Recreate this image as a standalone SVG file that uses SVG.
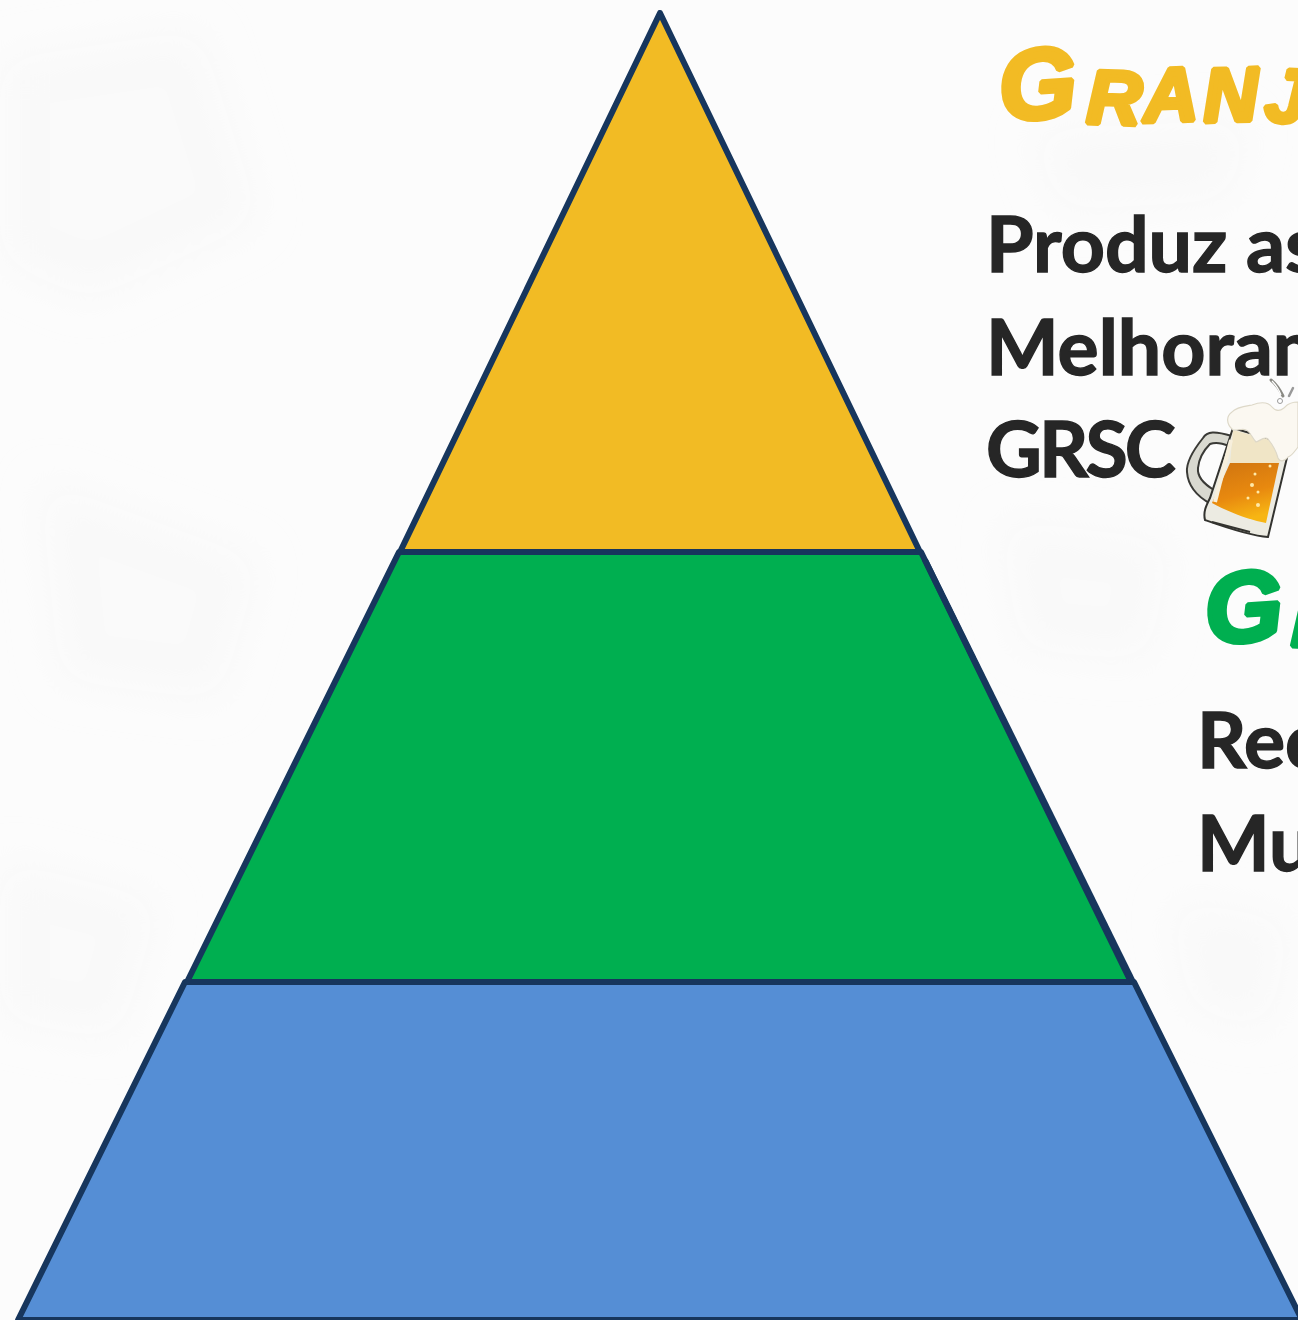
<svg xmlns="http://www.w3.org/2000/svg" width="1298" height="1320" viewBox="0 0 1298 1320">
<style>
.tier{stroke:#17365d;stroke-width:6;stroke-linejoin:round}
.body{font-family:Lato,"Liberation Sans",sans-serif;font-weight:700;font-size:77px;fill:#262626;stroke:#262626;stroke-width:1.4}
.brush{font-family:"Liberation Sans",sans-serif;font-weight:700;font-style:italic;stroke-width:5;stroke-linejoin:bevel}
.blot{fill:#f7f7f8;opacity:.5}
.bub{fill:#ffe9a8}
</style>
<defs>
<filter id="soft" x="-30%" y="-30%" width="160%" height="160%"><feGaussianBlur stdDeviation="22"/></filter>
<linearGradient id="beer" x1="0" y1="0" x2="0.3" y2="1"><stop offset="0" stop-color="#cf7410"/><stop offset=".6" stop-color="#e8890f"/><stop offset="1" stop-color="#f7b513"/></linearGradient>
</defs>
<rect width="1298" height="1320" fill="#fcfcfc"/>
<g id="background" filter="url(#soft)">
<polygon class="blot" points="0,60 200,30 260,220 90,300 0,260"/>
<polygon class="blot" points="40,480 260,560 220,700 60,680"/>
<polygon class="blot" points="0,860 160,900 120,1040 0,1020"/>
<polygon class="blot" points="1030,130 1250,120 1230,200 1060,210"/>
<polygon class="blot" points="1000,520 1170,540 1150,660 1020,650"/>
<polygon class="blot" points="1170,900 1290,920 1270,1030 1190,1010"/>
</g>
<g id="tier-bottom"><polygon class="tier" fill="#558ed5" points="185,982 1134,982 1302,1320 18,1320"/></g>
<g id="tier-middle"><polygon class="tier" fill="#00af50" points="399,552 921,552 1131,982 187,982"/><line x1="925" y1="560" x2="1133" y2="982" stroke="#17365d" stroke-width="6"/></g>
<g id="tier-top"><polygon class="tier" fill="#f2bb24" points="660,13 920,552 400,552"/></g>
<g id="label-top">
<text class="brush" fill="#f2bb24" stroke="#f2bb24"><tspan font-size="100" x="1001" y="121" rotate="-4">G</tspan><tspan font-size="76" x="1086" y="123" rotate="2">R</tspan><tspan font-size="76" x="1144" y="122" rotate="-2">A</tspan><tspan font-size="76" x="1204" y="122" rotate="-2">N</tspan><tspan font-size="76" x="1264" y="121" rotate="3">J</tspan></text>
<text class="body" x="986" y="272">Produz as</text>
<text class="body" x="986" y="375">Melhoram</text>
<text class="body" x="986" y="477" letter-spacing="-3">GRSC</text>
</g>
<g id="beer-mug">
<path d="M1232 436C1215 431 1207 431 1203 438C1195 448 1186 462 1187 472C1188 486 1198 497 1211 504L1214 490C1204 484 1197 477 1198 468C1199 458 1205 449 1210 444C1215 442 1222 443 1229 446Z" fill="#d9d9d0" stroke="#3a3a36" stroke-width="2"/>
<path d="M1233 428L1290 445L1268 537C1250 536 1222 526 1205 520C1203 512 1206 506 1210 498Z" fill="#ecebe2" stroke="#33332f" stroke-width="2"/>
<path d="M1233 430L1284 444L1279 464L1230 464Z" fill="#f0e5c6"/>
<path d="M1230 463L1279 463L1266 523C1250 520 1228 512 1212 503Z" fill="url(#beer)"/>
<path d="M1231 440L1215 502" stroke="#f7efdc" stroke-width="4"/>
<path d="M1212 522L1250 532" stroke="#33332f" stroke-width="2"/>
<circle class="bub" cx="1255" cy="474" r="1.5"/><circle class="bub" cx="1252" cy="485" r="2"/><circle class="bub" cx="1258" cy="492" r="1.5"/><circle class="bub" cx="1248" cy="498" r="1.5"/><circle class="bub" cx="1258" cy="505" r="2"/><circle class="bub" cx="1270" cy="466" r="1.5"/>
<path d="M1233 430C1226 424 1226 416 1232 412C1236 407 1246 406 1252 405C1260 402 1268 402 1272 407C1276 412 1280 411 1284 408C1288 403 1294 402 1298 402V447C1294 452 1292 456 1288 457C1284 462 1280 462 1278 458C1276 450 1272 444 1268 439C1264 436 1260 441 1256 442C1252 438 1250 431 1246 430C1242 428 1238 431 1233 430Z" fill="#fbf8f1" stroke="#ddd8c8" stroke-width="1.2"/>
<path d="M1271 380C1276 384 1280 390 1283 396" stroke="#8a8a84" stroke-width="3" fill="none" stroke-linecap="round"/>
<path d="M1272 381C1276 385 1279 390 1281 395" stroke="#fff" stroke-width="1.2" fill="none"/>
<circle cx="1280" cy="401" r="2.5" fill="#fff" stroke="#999" stroke-width="1"/>
<path d="M1293 388L1289 396" stroke="#999" stroke-width="2.5" stroke-linecap="round"/>
</g>
<g id="label-middle">
<text class="brush" fill="#00af50" stroke="#00af50"><tspan font-size="100" x="1207" y="644" rotate="-4">G</tspan><tspan font-size="76" x="1291" y="646" rotate="2">R</tspan></text>
<text class="body" x="1197" y="768">Rec</text>
<text class="body" x="1197" y="871">Mu</text>
</g>
</svg>
